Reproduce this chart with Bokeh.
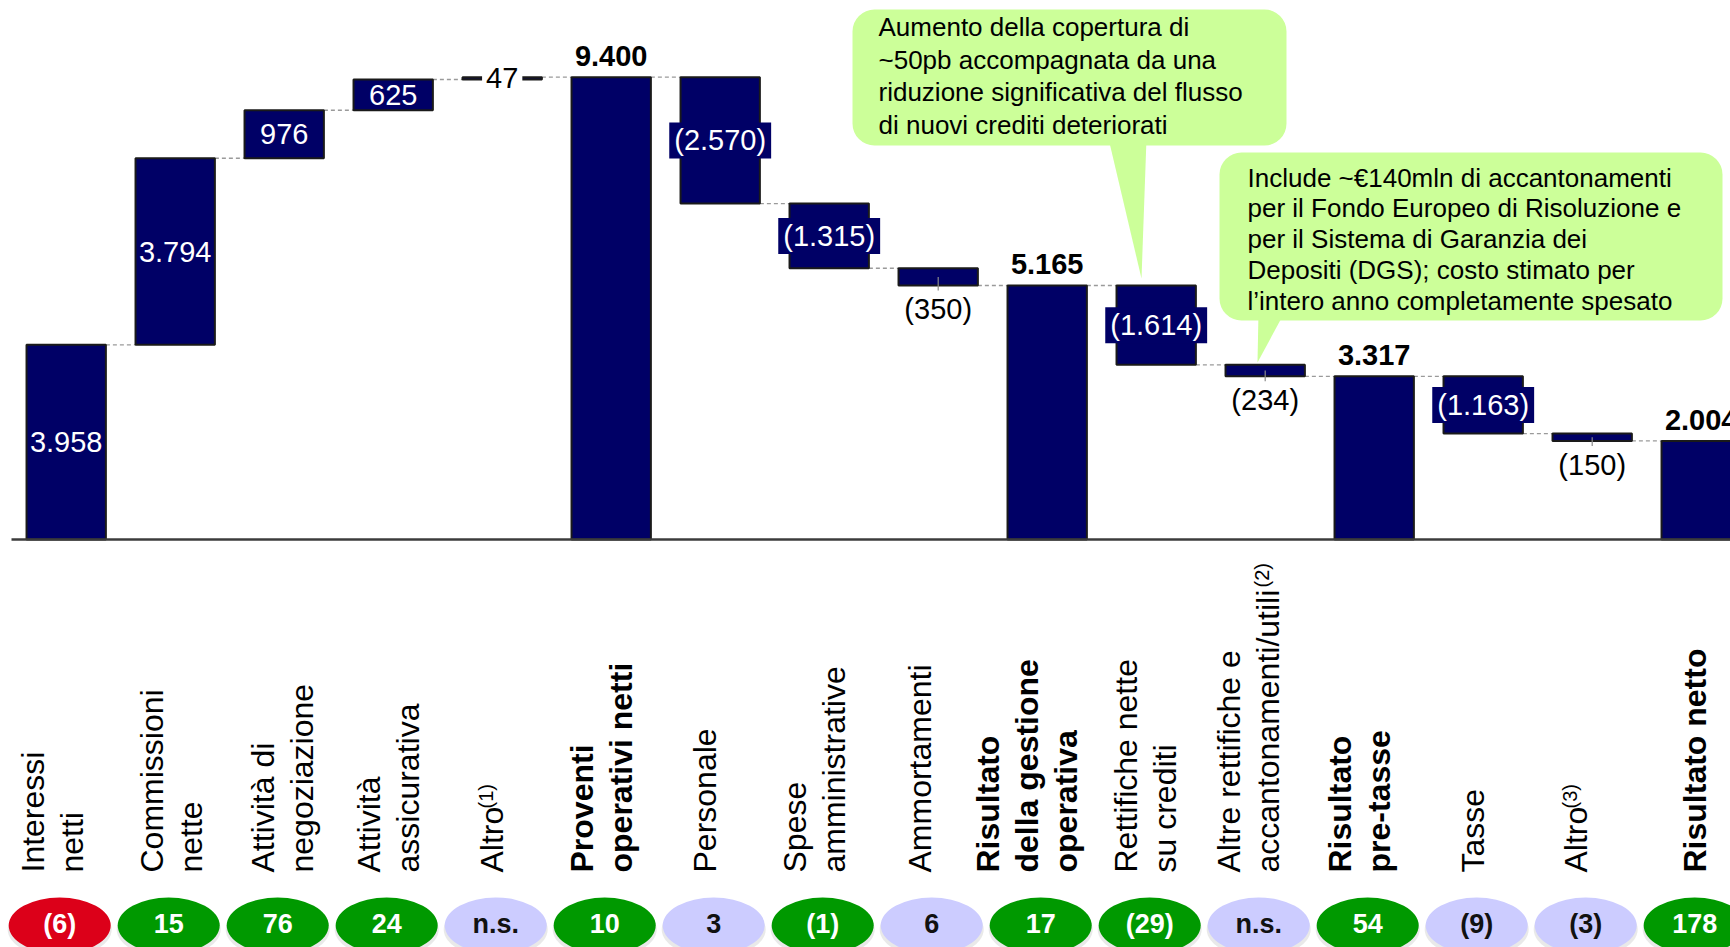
import math
from bokeh.plotting import figure
from bokeh.models import Range1d, BoxAnnotation
from bokeh.core.properties import value
from bokeh.embed import file_html
from bokeh.resources import INLINE

# ---------------- data ----------------
categories = ["Interessi netti", "Commissioni nette", "Attività di negoziazione",
              "Attività assicurativa", "Altro(1)", "Proventi operativi netti",
              "Personale", "Spese amministrative", "Ammortamenti",
              "Risultato della gestione operativa", "Rettifiche nette su crediti",
              "Altre rettifiche e accantonamenti/utili(2)", "Risultato pre-tasse",
              "Tasse", "Altro(3)", "Risultato netto"]
label_lines = [["Interessi", "netti"], ["Commissioni", "nette"],
               ["Attività di", "negoziazione"], ["Attività", "assicurativa"],
               ["Altro"], ["Proventi", "operativi netti"], ["Personale"],
               ["Spese", "amministrative"], ["Ammortamenti"],
               ["Risultato", "della gestione", "operativa"],
               ["Rettifiche nette", "su crediti"],
               ["Altre rettifiche e", "accantonamenti/utili"],
               ["Risultato", "pre-tasse"], ["Tasse"], ["Altro"], ["Risultato netto"]]
label_notes = ["", "", "", "", "(1)", "", "", "", "", "", "", "(2)", "", "", "(3)", ""]
bar_values = [3958, 3794, 976, 625, 47, 9400, -2570, -1315, -350, 5165,
              -1614, -234, 3317, -1163, -150, 2004]
is_subtotal = [False, False, False, False, False, True, False, False, False, True,
               False, False, True, False, False, True]
change_labels = ["(6)", "15", "76", "24", "n.s.", "10", "3", "(1)", "6", "17",
                 "(29)", "n.s.", "54", "(9)", "(3)", "178"]
change_class = ["neg", "pos", "pos", "pos", "ns", "pos", "ns", "pos", "ns", "pos",
                "pos", "ns", "pos", "ns", "ns", "pos"]
callout_credit = ["Aumento della copertura di",
                  "~50pb accompagnata da una",
                  "riduzione significativa del flusso",
                  "di nuovi crediti deteriorati"]
callout_fund = ["Include ~€140mln di accantonamenti",
                "per il Fondo Europeo di Risoluzione e",
                "per il Sistema di Garanzia dei",
                "Depositi (DGS); costo stimato per",
                "l\u2019intero anno completamente spesato"]

# ---------------- layout ----------------
W, H = 1730, 947
OFF = 0
X0 = 65.7 - OFF
STEP = 109.0
BASE = 539 - OFF
PXU = 0.04918
BAR_W = 0.728
FONT = value("Liberation Sans")


def xd(fx):
    return (fx - OFF - X0) / STEP


def yd(fy):
    return (BASE - (fy - OFF)) / PXU


def fmt(v):
    s = f"{abs(v):,}".replace(",", ".")
    return f"({s})" if v < 0 else s


p = figure(width=W, height=H, x_range=Range1d(xd(OFF), xd(OFF + W)),
           y_range=Range1d(yd(OFF + H), yd(OFF)), output_backend="svg",
           toolbar_location=None, min_border=0, x_axis_location=None,
           y_axis_location=None, outline_line_color=None)
p.grid.visible = False
p.background_fill_color = "white"

# ---- callouts (underlay) ----
p.add_layout(BoxAnnotation(left=xd(852), right=xd(1286), top=yd(9), bottom=yd(145),
                           fill_color="#CCFF99", fill_alpha=1, line_color=None,
                           border_radius=22, level="underlay"))
p.add_layout(BoxAnnotation(left=xd(1219), right=xd(1722), top=yd(152), bottom=yd(320),
                           fill_color="#CCFF99", fill_alpha=1, line_color=None,
                           border_radius=22, level="underlay"))
p.patch([xd(1108), xd(1146), xd(1141)], [yd(138), yd(138), yd(278)],
        fill_color="#CCFF99", line_color=None)
p.patch([xd(1258), xd(1284), xd(1257)], [yd(312), yd(312), yd(362)],
        fill_color="#CCFF99", line_color=None)
p.text(x=[xd(878)] * len(callout_credit),
       y=[yd(26.5 + 32.7 * k) for k in range(len(callout_credit))],
       text=callout_credit, text_font=FONT, text_font_size="26px",
       text_color="black", text_align="left", text_baseline="middle")
p.text(x=[xd(1247)] * len(callout_fund),
       y=[yd(177 + 30.8 * k) for k in range(len(callout_fund))],
       text=callout_fund, text_font=FONT, text_font_size="26px",
       text_color="black", text_align="left", text_baseline="middle")

# ---- waterfall ----
n = len(bar_values)
xs = list(range(n))
bottoms, tops, ends = [], [], []
run = 0
for v, tot in zip(bar_values, is_subtotal):
    if tot:
        b, t = 0, v
        run = v
    else:
        s = run
        run = run + v
        b, t = min(s, run), max(s, run)
    bottoms.append(b)
    tops.append(t)
    ends.append(run)

p.segment(x0=[i + BAR_W / 2 for i in range(n - 1)], y0=ends[:-1],
          x1=[i + 1 - BAR_W / 2 for i in range(n - 1)], y1=ends[:-1],
          line_color="#9a9a9a", line_dash="4 3", line_width=1.3)

p.quad(left=[i - BAR_W / 2 for i in xs], right=[i + BAR_W / 2 for i in xs],
       bottom=bottoms, top=tops, fill_color="#000066", line_color="#1a1a1a",
       line_width=2)

p.segment(x0=[xd(11)], y0=[0], x1=[xd(1780)], y1=[0], line_color="#3c3c3c",
          line_width=2.5)

# ---- value labels ----
VFS = "29px"
for i, v in enumerate(bar_values):
    b, t = bottoms[i], tops[i]
    mid = (b + t) / 2
    hpx = (t - b) * PXU
    txt = fmt(v)
    if is_subtotal[i]:
        p.text(x=[i], y=[t + 21 / PXU], text=[txt], text_font=FONT,
               text_font_size=VFS, text_font_style="bold", text_color="black",
               text_align="center", text_baseline="middle")
    elif hpx >= 28 and v > 0:
        p.text(x=[i], y=[mid], text=[txt], text_font=FONT, text_font_size=VFS,
               text_color="white", text_align="center", text_baseline="middle")
    elif hpx >= 28:
        p.text(x=[i], y=[mid], text=[txt], text_font=FONT, text_font_size=VFS,
               text_color="white", text_align="center", text_baseline="middle",
               background_fill_color="#000066",
               padding=dict(left=5, right=5, top=2, bottom=2))
    elif v > 0:
        p.text(x=[i], y=[mid], text=[txt], text_font=FONT, text_font_size=VFS,
               text_color="black", text_align="center", text_baseline="middle",
               background_fill_color="white",
               padding=dict(left=4, right=4, top=2, bottom=2))
    else:
        p.segment(x0=[i], y0=[mid], x1=[i], y1=[b - 5 / PXU], line_color="#8a8a8a",
                  line_width=1.2)
        p.text(x=[i], y=[b - 8 / PXU], text=[txt], text_font=FONT,
               text_font_size=VFS, text_color="black", text_align="center",
               text_baseline="top")

# ---- category labels (rotated; offsets are glyph-centre offsets) ----
LBL_FIRST = [-33, -23, -21, -24, -10, -29, -15, -34, -18, -59, -30, -36, -34, -10, -16, -6]
LBL_STEP = 39
LBL_BOTTOM = 872
SUP_START = {4: 808, 11: 587, 14: 808}
for i, lines in enumerate(label_lines):
    style = "bold" if is_subtotal[i] else "normal"
    for j, line in enumerate(lines):
        p.text(x=[i], y=[yd(LBL_BOTTOM)], text=[line], angle=math.pi / 2,
               x_offset=LBL_FIRST[i] + j * LBL_STEP, text_font=FONT,
               text_font_size="32px", text_font_style=style, text_color="black",
               text_align="left", text_baseline="middle")
    if label_notes[i]:
        last = len(lines) - 1
        p.text(x=[i], y=[yd(SUP_START[i])], text=[label_notes[i]], angle=math.pi / 2,
               x_offset=LBL_FIRST[i] + last * LBL_STEP - 6, text_font=FONT,
               text_font_size="20px", text_color="black", text_align="left",
               text_baseline="middle")

# ---- change ellipses ----
ell_fill = {"neg": "#DC0019", "pos": "#009900", "ns": "#CCCCFF"}
ell_text = {"neg": "white", "pos": "white", "ns": "#111111"}
ex = [i - 6.5 / STEP for i in xs]
p.ellipse(x=ex, y=yd(929), width=104, height=56, width_units="screen",
          height_units="screen", fill_color="#9a9a9a", fill_alpha=0.22, line_color=None)
p.ellipse(x=ex, y=yd(925), width=102, height=56, width_units="screen",
          height_units="screen", fill_color=[ell_fill[c] for c in change_class],
          line_color=None)
p.text(x=ex, y=yd(923), text=change_labels, text_font=FONT, text_font_size="27px",
       text_font_style="bold", text_color=[ell_text[c] for c in change_class],
       text_align="center", text_baseline="middle")

open("out.html", "w").write(file_html(p, INLINE))
